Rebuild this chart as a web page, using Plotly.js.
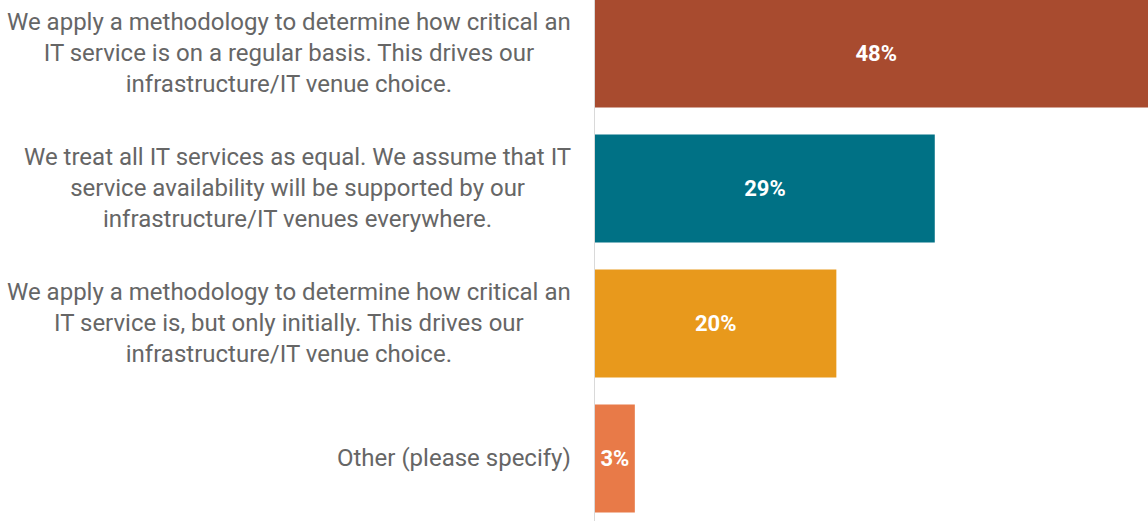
<!DOCTYPE html>
<html>
<head>
<meta charset="utf-8">
<script src="https://cdn.plot.ly/plotly-3.0.1.min.js"></script>
<style>
html,body{margin:0;padding:0;background:#fff;}
#chart{width:1148px;height:521px;}
</style>
</head>
<body>
<div id="chart"></div>
<script>
const categories = [
  "We apply a methodology to determine how critical an<br>IT service is on a regular basis. This drives our<br>infrastructure/IT venue choice.",
  "We treat all IT services as equal. We assume that IT<br>service availability will be supported by our<br>infrastructure/IT venues everywhere.",
  "We apply a methodology to determine how critical an<br>IT service is, but only initially. This drives our<br>infrastructure/IT venue choice.",
  "Other (please specify)"
];
const values = [48, 29, 20.6, 3.4];
const valueLabels = ["48%", "29%", "20%", "3%"];
const colors = ["#A84B2F", "#007185", "#E8991C", "#E87A48"];

const trace = {
  type: 'bar',
  orientation: 'h',
  x: values,
  y: categories.map((c, i) => i),
  text: valueLabels,
  textposition: 'inside',
  insidetextanchor: 'middle',
  textangle: 0,
  constraintext: 'none',
  textfont: {family: 'Roboto, sans-serif', size: 22, color: '#ffffff', weight: 'bold'},
  marker: {color: colors, line: {width: 0}},
  hoverinfo: 'none',
  cliponaxis: true
};

const annotations = categories.map((c, i) => ({
  xref: 'paper', yref: 'y',
  x: 0, y: i,
  xanchor: 'right', yanchor: 'middle',
  xshift: -22,
  align: 'center',
  text: c,
  showarrow: false,
  font: {family: 'Roboto, sans-serif', size: 24, color: '#666666'}
}));

const layout = {
  width: 1148, height: 521,
  margin: {l: 595, r: 0, t: 0, b: 0, pad: 0},
  paper_bgcolor: '#ffffff',
  plot_bgcolor: '#ffffff',
  bargap: 0.2,
  showlegend: false,
  xaxis: {range: [0, 47.2], showgrid: false, zeroline: false, showticklabels: false, showline: false, ticks: ''},
  yaxis: {range: [3.463, -0.396], showgrid: false, zeroline: false, showticklabels: false, ticks: '',
          showline: true, linecolor: '#d9d9d9', linewidth: 1},
  annotations: annotations
};

Plotly.newPlot('chart', [trace], layout, {displayModeBar: false, staticPlot: true});
</script>
</body>
</html>
